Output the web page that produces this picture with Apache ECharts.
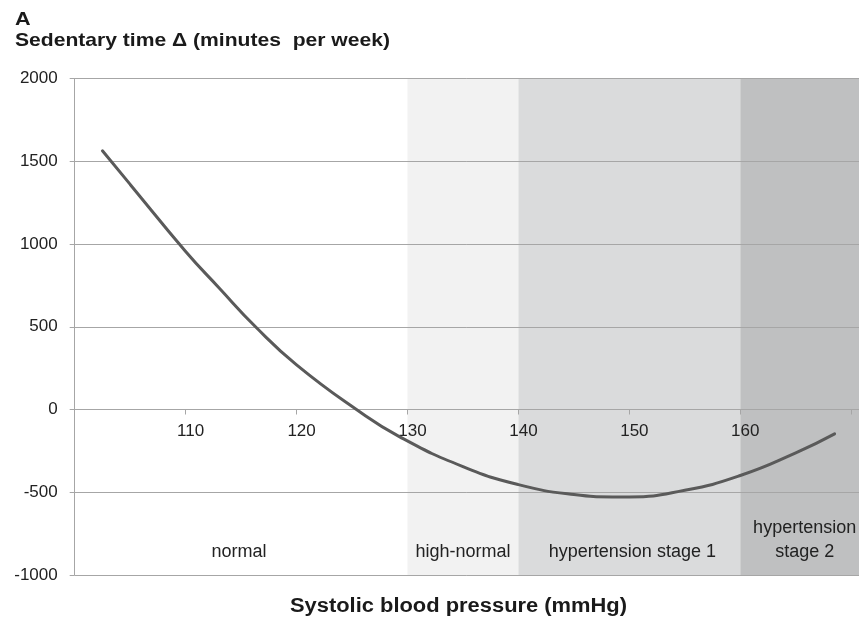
<!DOCTYPE html>
<html>
<head>
<meta charset="utf-8">
<script src="https://cdn.jsdelivr.net/npm/echarts@6/dist/echarts.min.js"></script>
<style>
html,body{margin:0;padding:0;background:#fff;}
#chart{width:859px;height:622px;}
</style>
</head>
<body>
<div id="chart"></div>
<script>
// Data
const systolicBP = [102.5, 105, 110, 113, 116.3, 120, 125.4, 129.3, 135, 140, 145, 148.5, 150, 155, 160, 165, 168.5];
const sedentaryDelta = [1563, 1360, 955, 736, 500, 270, 0, -165, -345, -454, -514, -528, -528, -488, -399, -262, -147];
const xTickLabels = [110, 120, 130, 140, 150, 160];
const bandNames = ['normal', 'high-normal', 'hypertension stage 1', 'hypertension\nstage 2'];
const bandStarts = [100, 130, 140, 160];
const bandEnds = [130, 140, 160, 170.7];
const bandColors = ['#ffffff', '#f2f2f2', '#dadbdc', '#bfc0c1'];
const bandLabelOffsets = [[-2, 0], [0, 0], [3, 0], [5, 0]];

const FONT = 'Liberation Sans, Arial, sans-serif';
const TXT = '#222222';
const chart = echarts.init(document.getElementById('chart'), null, {renderer: 'canvas'});

const markAreaData = bandNames.map((n, i) => [
  {
    xAxis: bandStarts[i],
    itemStyle: {color: bandColors[i]},
    label: {offset: bandLabelOffsets[i]},
    name: n
  },
  {xAxis: bandEnds[i]}
]);

chart.setOption({
  animation: false,
  backgroundColor: '#ffffff',
  graphic: [
    {type: 'text', x: 15, y: 20, scaleX: 1.2,
     style: {text: 'A', x: 0, y: 0, textAlign: 'left', textVerticalAlign: 'middle', font: 'bold 18px ' + FONT, fill: '#1a1a1a'}},
    {type: 'text', x: 15, y: 41, scaleX: 1.11,
     style: {text: 'Sedentary time \u0394 (minutes  per week)', x: 0, y: 0, textAlign: 'left', textVerticalAlign: 'middle', font: 'bold 19px ' + FONT, fill: '#1a1a1a'}},
    {type: 'text', x: 458.5, y: 606, scaleX: 1.095,
     style: {text: 'Systolic blood pressure (mmHg)', x: 0, y: 0, textAlign: 'center', textVerticalAlign: 'middle', font: 'bold 20px ' + FONT, fill: '#1a1a1a'}}
  ],
  grid: {left: 74.7, right: 0, top: 78.5, bottom: 47},
  xAxis: {
    type: 'value', min: 100, max: 170.7, interval: 10, z: 3,
    axisLine: {show: true, onZero: true, lineStyle: {color: '#a6a6a6', width: 1}},
    axisTick: {show: true, length: 5, lineStyle: {color: '#a6a6a6'}},
    axisLabel: {show: false},
    splitLine: {show: false}
  },
  yAxis: {
    type: 'value', min: -1000, max: 2000, interval: 500, z: 3,
    axisLine: {show: true, lineStyle: {color: '#a6a6a6', width: 1}},
    axisTick: {show: true, length: 5, lineStyle: {color: '#a6a6a6'}},
    axisLabel: {fontFamily: FONT, fontSize: 17, color: TXT, margin: 17, formatter: v => String(v)},
    splitLine: {show: true, lineStyle: {color: '#a6a6a6', width: 1}}
  },
  series: [
    {
      type: 'line', z: 1, data: [], silent: true,
      markArea: {
        silent: true,
        label: {show: true, position: 'insideBottom', distance: 11, fontFamily: FONT, fontSize: 18,
          color: TXT, lineHeight: 24, align: 'center'},
        data: markAreaData
      }
    },
    {
      type: 'scatter', z: 4, silent: true, symbolSize: 1,
      itemStyle: {color: 'rgba(0,0,0,0)'},
      data: xTickLabels.map(v => [v, 0]),
      label: {show: true, position: 'bottom', distance: 13, offset: [5, 0], opacity: 1,
        formatter: p => String(p.value[0]),
        fontFamily: FONT, fontSize: 17, color: TXT, textBorderWidth: 0}
    },
    {
      type: 'line', z: 10, smooth: 0.5, symbol: 'none',
      data: systolicBP.map((x, i) => [x, sedentaryDelta[i]]),
      lineStyle: {color: '#5a5a5a', width: 3, cap: 'round'}
    }
  ]
});
</script>
</body>
</html>
